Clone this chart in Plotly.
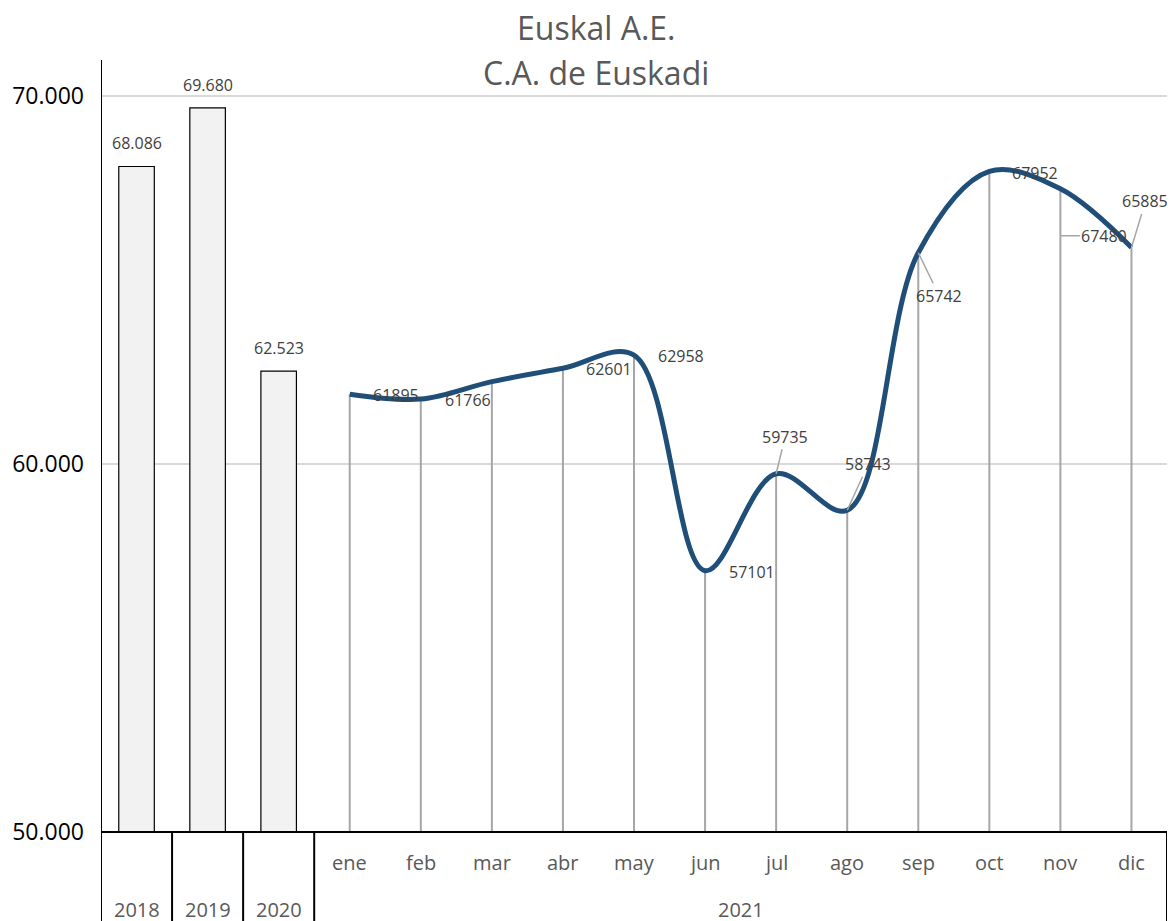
import plotly.graph_objects as go

# ---------------- data ----------------
years = ["2018", "2019", "2020"]
year_values = [68086, 69680, 62523]
year_labels = ["68.086", "69.680", "62.523"]

months = ["ene", "feb", "mar", "abr", "may", "jun", "jul", "ago", "sep", "oct", "nov", "dic"]
month_values = [61895, 61766, 62240, 62601, 62958, 57101, 59735, 58743, 65742, 67952, 67480, 65885]
month_labels = ["61895", "61766", "", "62601", "62958", "57101", "59735", "58743",
                "65742", "67952", "67480", "65885"]
year_2021 = "2021"

y_ticks = [50000, 60000, 70000]
y_ticktext = ["50.000", "60.000", "70.000"]

title_lines = ["Euskal A.E.", "C.A. de Euskadi"]

# ---------------- styling ----------------
FONT = "Open Sans"
LINE_COLOR = "#1f4e79"
DROP_COLOR = "#a6a6a6"
LABEL_COLOR = "#404040"
AXIS_TEXT = "#595959"
Y_MIN, Y_MAX = 50000, 70980

# label placement (pixel offsets) per month: (xshift, yshift, ax, ay, leader)
label_pos = {
    "ene": (46, -1, 0, 0, False),
    "feb": (47, -1, 0, 0, False),
    "mar": (46, 0, 0, 0, False),
    "abr": (46, -1, 0, 0, False),
    "may": (47, -1, 0, 0, False),
    "jun": (47, -1, 0, 0, False),
    "jul": (0, 0, 9, -37, True),
    "ago": (0, 0, 21, -46, True),
    "sep": (0, 0, 21, 43, True),
    "oct": (46, -2, 0, 0, False),
    "nov": (0, -47, 44, 0, True),
    "dic": (0, 0, 14, -46, True),
}

year_x = list(range(len(years)))
month_x = [len(years) + i for i in range(len(months))]
n_cat = len(years) + len(months)

fig = go.Figure()

# bars for the annual values
fig.add_trace(go.Bar(
    x=year_x, y=year_values, width=0.5,
    marker=dict(color="#f2f2f2", line=dict(color="#000000", width=1.2)),
    hoverinfo="y",
))

# drop lines from each monthly point
dx, dy = [], []
for xv, yv in zip(month_x, month_values):
    dx += [xv, xv, None]
    dy += [yv, Y_MIN, None]
fig.add_trace(go.Scatter(x=dx, y=dy, mode="lines",
                         line=dict(color=DROP_COLOR, width=2), hoverinfo="skip"))

# smoothed monthly line
fig.add_trace(go.Scatter(
    x=month_x, y=month_values, mode="lines",
    line=dict(color=LINE_COLOR, width=5, shape="spline", smoothing=1.0),
))

annotations = []
# bar labels
for xv, yv, t in zip(year_x, year_values, year_labels):
    annotations.append(dict(x=xv, y=yv, xref="x", yref="y", text=t, showarrow=False,
                            yshift=23, font=dict(family=FONT, size=16, color=LABEL_COLOR)))
# monthly data labels
for m, xv, yv, t in zip(months, month_x, month_values, month_labels):
    if not t:
        continue
    xs, ys, ax, ay, leader = label_pos[m]
    a = dict(x=xv, y=yv, xref="x", yref="y", text=t, xshift=xs, yshift=ys,
             font=dict(family=FONT, size=16, color=LABEL_COLOR))
    if leader:
        a.update(showarrow=True, arrowhead=0, arrowwidth=1.5, arrowcolor=DROP_COLOR,
                 ax=ax, ay=ay, axref="pixel", ayref="pixel", standoff=0)
    else:
        a.update(showarrow=False)
    annotations.append(a)

# category axis labels
for m, xv in zip(months, month_x):
    annotations.append(dict(x=xv, y=-0.040, xref="x", yref="paper", text=m, showarrow=False,
                            yanchor="middle", font=dict(family=FONT, size=20, color=AXIS_TEXT)))
for yr, xv in zip(years, year_x):
    annotations.append(dict(x=xv, y=-0.101, xref="x", yref="paper", text=yr, showarrow=False,
                            yanchor="middle", font=dict(family=FONT, size=20, color=AXIS_TEXT)))
annotations.append(dict(x=sum(month_x) / len(month_x), y=-0.101, xref="x", yref="paper",
                        text=year_2021, showarrow=False, yanchor="middle",
                        font=dict(family=FONT, size=20, color=AXIS_TEXT)))

# title
annotations.append(dict(x=0.4644, y=1.0427, xref="paper", yref="paper", text=title_lines[0],
                        showarrow=False, yanchor="middle",
                        font=dict(family=FONT, size=32, color=AXIS_TEXT)))
annotations.append(dict(x=0.4644, y=0.9832, xref="paper", yref="paper", text=title_lines[1],
                        showarrow=False, yanchor="middle",
                        font=dict(family=FONT, size=32, color=AXIS_TEXT)))

# table lines of the category axis
bottom = -0.13
shapes = [
    dict(type="line", xref="x", yref="paper", x0=-0.5, x1=n_cat - 0.5, y0=0, y1=0,
         line=dict(color="#000000", width=2), layer="above"),
    dict(type="line", xref="x", yref="paper", x0=-0.5, x1=-0.5, y0=bottom, y1=1,
         line=dict(color="#000000", width=2), layer="above"),
    dict(type="line", xref="x", yref="paper", x0=n_cat - 0.5, x1=n_cat - 0.5, y0=bottom, y1=0,
         line=dict(color="#000000", width=2), layer="above"),
]
for k in range(len(years)):
    shapes.append(dict(type="line", xref="x", yref="paper", x0=k + 0.5, x1=k + 0.5,
                       y0=bottom, y1=0, line=dict(color="#000000", width=2), layer="above"))

fig.update_layout(
    width=1171, height=921,
    margin=dict(l=101, r=4, t=60, b=89),
    plot_bgcolor="white", paper_bgcolor="white",
    showlegend=False,
    font=dict(family=FONT),
    annotations=annotations,
    shapes=shapes,
    xaxis=dict(range=[-0.5, n_cat - 0.5], showticklabels=False, showgrid=False,
               zeroline=False, ticks="", showline=False, fixedrange=True),
    yaxis=dict(range=[Y_MIN, Y_MAX], tickvals=y_ticks, ticktext=y_ticktext,
               tickfont=dict(family=FONT, size=23, color="#000000"),
               showgrid=True, gridcolor="#d9d9d9", gridwidth=1.5, zeroline=False,
               ticks="", showline=False, ticklabelstandoff=16, automargin=False),
)

fig.write_html(
    "out.html",
    config={"displayModeBar": False},
    post_script="document.documentElement.style.overflow='hidden';"
                "document.body.style.overflow='hidden';"
                "document.body.style.margin='0';",
)
